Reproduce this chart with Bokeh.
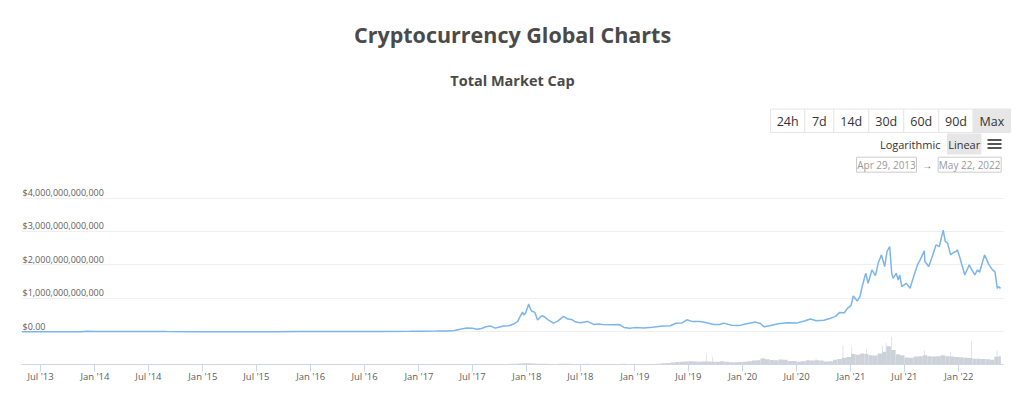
from datetime import datetime

from bokeh.core.properties import value
from bokeh.embed import file_html
from bokeh.layouts import column
from bokeh.models import (ColumnDataSource, CustomJSTickFormatter, FixedTicker,
                          Grid, Range1d)
from bokeh.plotting import figure
from bokeh.resources import INLINE

# ---------------------------------------------------------------- data
# Total market cap, USD billions
cap_dates = [
    "2013-04-29", "2013-07-01", "2013-10-01", "2013-11-15", "2013-12-04",
    "2014-01-01", "2014-03-01", "2014-06-01", "2014-09-01", "2014-12-01",
    "2015-03-01", "2015-06-01", "2015-09-01", "2015-12-01", "2016-03-01",
    "2016-06-15", "2016-09-01", "2016-12-01", "2017-01-05", "2017-03-01",
    "2017-04-01", "2017-05-01", "2017-05-25", "2017-06-12", "2017-07-01",
    "2017-07-16", "2017-08-01", "2017-08-15", "2017-09-01", "2017-09-15",
    "2017-10-01", "2017-10-15", "2017-11-01", "2017-11-15", "2017-12-01",
    "2017-12-08", "2017-12-17", "2017-12-22", "2017-12-28", "2018-01-07",
    "2018-01-12", "2018-01-17", "2018-01-28", "2018-02-06", "2018-02-20",
    "2018-03-01", "2018-03-15", "2018-04-01", "2018-04-15", "2018-05-05",
    "2018-05-20", "2018-06-01", "2018-06-15", "2018-07-01", "2018-07-25",
    "2018-08-15", "2018-09-01", "2018-09-15", "2018-10-15", "2018-11-10",
    "2018-11-25", "2018-12-15", "2019-01-01", "2019-02-01", "2019-03-01",
    "2019-04-05", "2019-05-01", "2019-05-20", "2019-06-10", "2019-06-26",
    "2019-07-15", "2019-08-10", "2019-09-01", "2019-09-25", "2019-10-15",
    "2019-10-28", "2019-11-25", "2019-12-18", "2020-01-15", "2020-02-14",
    "2020-03-01", "2020-03-13", "2020-04-01", "2020-04-30", "2020-06-01",
    "2020-07-01", "2020-07-30", "2020-08-17", "2020-09-05", "2020-10-01",
    "2020-10-22", "2020-11-10", "2020-11-24", "2020-12-10", "2020-12-20",
    "2021-01-01", "2021-01-09", "2021-01-22", "2021-02-01", "2021-02-08",
    "2021-02-20", "2021-02-28", "2021-03-13", "2021-03-25", "2021-04-03",
    "2021-04-14", "2021-04-25", "2021-05-03", "2021-05-12", "2021-05-19",
    "2021-05-24", "2021-06-03", "2021-06-10", "2021-06-15", "2021-06-22",
    "2021-07-07", "2021-07-20", "2021-08-01", "2021-08-14", "2021-08-23",
    "2021-09-06", "2021-09-08", "2021-09-21", "2021-10-01", "2021-10-16",
    "2021-10-27", "2021-11-09", "2021-11-16", "2021-11-24", "2021-12-04",
    "2021-12-10", "2021-12-22", "2021-12-27", "2022-01-05", "2022-01-21",
    "2022-02-05", "2022-02-14", "2022-02-24", "2022-03-05", "2022-03-12",
    "2022-03-29", "2022-04-13", "2022-04-25", "2022-05-03", "2022-05-11",
    "2022-05-15", "2022-05-22",
]
cap_billions = [
    1.6, 1.2, 1.6, 5, 14,
    10, 8, 8, 6, 5,
    4, 4, 4, 6, 7,
    11, 12, 13, 18, 22,
    25, 40, 85, 115, 105,
    75, 100, 150, 170, 110,
    145, 175, 180, 225, 310,
    440, 590, 500, 570, 830,
    700, 620, 580, 350, 480,
    450, 350, 260, 320, 460,
    380, 370, 290, 270, 310,
    220, 230, 220, 210, 215,
    130, 105, 125, 115, 135,
    175, 180, 255, 265, 360,
    305, 305, 270, 220, 220,
    260, 195, 185, 240, 290,
    250, 150, 180, 240, 270,
    260, 330, 380, 330, 345,
    400, 460, 580, 570, 700,
    780, 1070, 920, 1070, 1350,
    1750, 1450, 1850, 1680, 2050,
    2300, 1950, 2400, 2550, 1750,
    1600, 1750, 1550, 1700, 1350,
    1450, 1300, 1650, 2000, 2150,
    2420, 2100, 1950, 2200, 2600,
    2550, 3040, 2700, 2650, 2300,
    2350, 2400, 2450, 2200, 1700,
    2000, 1850, 1700, 1850, 1780,
    2300, 2000, 1850, 1800, 1300,
    1350, 1300,
]

# 24h volume, USD billions, averaged over half-month blocks (1st / 16th)
vol_months = [f"{y}-{m:02d}" for y in range(2017, 2023) for m in range(1, 13)][:65]
vol_billions = [
    # 2017
    3, 3, 3, 4, 4, 5, 5, 6, 7, 9, 8, 9, 8, 7, 8, 9, 9, 8, 8, 9, 12, 14, 18, 22,
    # 2018
    24, 18, 15, 12, 12, 10, 10, 14, 14, 12, 10, 9, 10, 12, 10, 9, 9, 9, 8, 8, 9, 12, 10, 9,
    # 2019
    8, 9, 9, 11, 11, 12, 22, 28, 38, 45, 48, 55, 58, 52, 50, 52, 55, 48, 50, 58, 48, 42, 42, 45,
    # 2020
    50, 58, 70, 75, 110, 95, 80, 78, 90, 85, 65, 62, 50, 60, 75, 72, 78, 70, 55, 60, 85, 100, 120, 135,
    # 2021
    190, 175, 200, 190, 165, 160, 200, 230, 330, 260, 185, 165, 125, 120, 145, 150, 165, 150, 145, 150, 165, 150, 145, 135,
    # 2022
    130, 120, 115, 105, 105, 100, 95, 85, 140, 150,
]
# single-day volume spikes, USD billions
spike_dates = ["2019-09-01", "2019-09-20", "2020-03-13", "2020-09-05", "2020-12-05",
               "2021-01-04", "2021-02-23", "2021-04-18", "2021-04-30", "2021-05-19",
               "2021-09-07", "2021-12-04", "2022-02-12", "2022-05-10"]
spike_billions = [200, 140, 130, 110, 340, 310, 280, 330, 390, 500, 250, 230, 415, 250]

y_ticks = [0, 1e12, 2e12, 3e12, 4e12]
y_tick_labels = ["$0.00", "$1,000,000,000,000", "$2,000,000,000,000",
                 "$3,000,000,000,000", "$4,000,000,000,000"]

x_tick_dates = ["2013-07-01", "2014-01-01", "2014-07-01", "2015-01-01", "2015-07-01",
                "2016-01-01", "2016-07-01", "2017-01-01", "2017-07-01", "2018-01-01",
                "2018-07-01", "2019-01-01", "2019-07-01", "2020-01-01", "2020-07-01",
                "2021-01-01", "2021-07-01", "2022-01-01"]
x_tick_labels = ["Jul '13", "Jan '14", "Jul '14", "Jan '15", "Jul '15", "Jan '16",
                 "Jul '16", "Jan '17", "Jul '17", "Jan '18", "Jul '18", "Jan '19",
                 "Jul '19", "Jan '20", "Jul '20", "Jan '21", "Jul '21", "Jan '22"]

range_buttons = ["24h", "7d", "14d", "30d", "60d", "90d", "Max"]
range_from, range_to = "Apr 29, 2013", "May 22, 2022"

# ---------------------------------------------------------------- helpers
EPOCH = datetime(1970, 1, 1)
DAY = 86400000.0


def ms(s):
    return (datetime.strptime(s, "%Y-%m-%d") - EPOCH).total_seconds() * 1000.0


FONT = value("Open Sans")
TEXT = "#4a4a4a"
LEFT, RIGHT = 21, 21  # chart frame borders

# ---------------------------------------------------------------- header
# header data coordinates are page pixels; its frame is not tied to the chart's
header = figure(width=1024, height=180, x_range=Range1d(0, 1024),
                y_range=Range1d(180, 0), toolbar_location=None, output_backend="svg",
                min_border=0, x_axis_location=None, y_axis_location=None,
                outline_line_color=None, frame_align=False)
header.grid.visible = False

header.text(x=[512], y=[34], text=["Cryptocurrency Global Charts"], text_align="center",
            text_baseline="middle", text_font=FONT, text_font_size="21.5px",
            text_font_style="bold", text_color=TEXT)
header.text(x=[512], y=[80], text=["Total Market Cap"], text_align="center",
            text_baseline="middle", text_font=FONT, text_font_size="14.5px",
            text_font_style="bold", text_color=TEXT)

btn_edges = [770, 804.3, 833.3, 868.3, 903.3, 938.3, 972.7, 1010]
btn_left = btn_edges[:-1]
btn_right = btn_edges[1:]
btn_fill = ["white"] * 6 + ["#e6e6e6"]
header.quad(left=btn_left, right=btn_right, top=[108.5] * 7, bottom=[132] * 7,
            fill_color=btn_fill, line_color="#e6e6e6", line_width=1)
header.text(x=[(a + b) / 2 for a, b in zip(btn_left, btn_right)], y=[121] * 7,
            text=range_buttons, text_align="center", text_baseline="middle",
            text_font=FONT, text_font_size="12.5px", text_color="#333333")

header.text(x=[940], y=[143.5], text=["Logarithmic"], text_align="right",
            text_baseline="middle", text_font=FONT, text_font_size="11px", text_color="#333333")
header.quad(left=[946.5], right=[981], top=[133], bottom=[154],
            fill_color="#e6e6e6", line_color=None)
header.text(x=[963.7], y=[143.5], text=["Linear"], text_align="center",
            text_baseline="middle", text_font=FONT, text_font_size="11px", text_color="#333333")
header.segment(x0=[987] * 3, x1=[1001] * 3, y0=[139.5, 143.5, 147.5], y1=[139.5, 143.5, 147.5],
               line_color="#555555", line_width=2)

header.quad(left=[856, 937.7], right=[916, 1000.7], top=[156.7] * 2, bottom=[171.7] * 2,
            fill_color="white", line_color="#cccccc", line_width=1)
header.text(x=[886, 969.2], y=[164.5] * 2, text=[range_from, range_to], text_align="center",
            text_baseline="middle", text_font=FONT, text_font_size="10px", text_color="#999999")
header.text(x=[926.8], y=[164.5], text=["\u2192"], text_align="center",
            text_baseline="middle", text_font=FONT, text_font_size="10px", text_color="#666666")

# ---------------------------------------------------------------- chart
x_start = ms("2013-04-29") - 1.4 * DAY
x_end = x_start + (1024 - LEFT - RIGHT) / 0.29566 * DAY
px_per_t = 33.45
y_lo = -32.7 / px_per_t * 1e12
y_hi = y_lo + 182 / px_per_t * 1e12

chart = figure(width=1024, height=214, x_axis_type="datetime",
               x_range=Range1d(x_start, x_end), y_range=Range1d(y_lo, y_hi),
               toolbar_location=None, output_backend="svg", y_axis_location=None,
               min_border_left=LEFT, min_border_right=RIGHT, min_border_top=2,
               min_border_bottom=30, outline_line_color=None, frame_align=False)
chart.xgrid.visible = False
chart.extra_y_ranges = {"vol": Range1d(0, 182 * 18.0 * 1e9)}

chart.add_layout(Grid(dimension=1, ticker=FixedTicker(ticks=y_ticks),
                      grid_line_color="#efefef", grid_line_width=1))

# volume histogram
vol_left = []
for mth in vol_months:
    vol_left += [ms(mth + "-01"), ms(mth + "-16")]
vol_right = vol_left[1:] + [ms("2022-05-22") + DAY]
chart.quad(left=vol_left, right=vol_right, bottom=0, top=[v * 1e9 for v in vol_billions],
           y_range_name="vol", fill_color="#cdd1d8", line_color=None)
chart.vbar(x=[ms(d) for d in spike_dates], top=[v * 1e9 for v in spike_billions], width=2 * DAY,
           bottom=0, y_range_name="vol", fill_color="#cdd1d8", line_color=None)

# market cap line
src = ColumnDataSource(dict(x=[ms(d) for d in cap_dates], y=[v * 1e9 for v in cap_billions]))
chart.line("x", "y", source=src, line_color="#7cb5ec", line_width=1.5)

# y tick labels sit just above their grid lines
chart.text(x=[x_start] * len(y_ticks), y=y_ticks, text=y_tick_labels, x_offset=1, y_offset=1,
           text_align="left", text_baseline="bottom", text_font=FONT,
           text_font_size="9px", text_color="#606060")

ax = chart.xaxis[0]
ax.ticker = FixedTicker(ticks=[ms(d) for d in x_tick_dates])
ax.formatter = CustomJSTickFormatter(args=dict(labels=x_tick_labels), code="return labels[index];")
ax.axis_line_color = "#ccd6eb"
ax.major_tick_line_color = "#ccd6eb"
ax.major_tick_out = 7
ax.major_tick_in = 0
ax.minor_tick_line_color = None
ax.major_label_standoff = -2
ax.major_label_text_font = "Open Sans"
ax.major_label_text_font_size = "9.5px"
ax.major_label_text_color = "#606060"

layout = column(header, chart, spacing=0)
open("out.html", "w").write(file_html(layout, INLINE))
